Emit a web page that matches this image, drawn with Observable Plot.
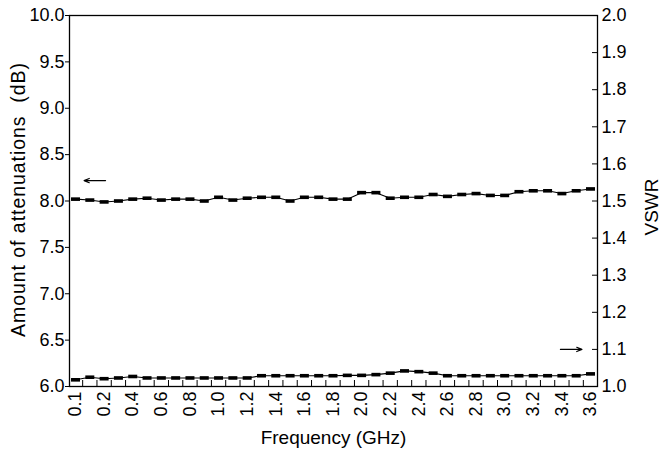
<!DOCTYPE html>
<html>
<head>
<meta charset="utf-8">
<script src="https://cdn.jsdelivr.net/npm/d3@7"></script>
<script src="https://cdn.jsdelivr.net/npm/@observablehq/plot@0.6"></script>
<style>
  html, body { margin: 0; padding: 0; background: #fff; }
  #chart svg { display: block; }
</style>
</head>
<body>
<div id="chart"></div>
<script>
// Measurement positions along the frequency axis (GHz positions, 0.1 GHz apart)
const freqPos = [0.0, 0.1, 0.2, 0.3, 0.4, 0.5, 0.6, 0.7, 0.8, 0.9, 1.0, 1.1, 1.2,
  1.3, 1.4, 1.5, 1.6, 1.7, 1.8, 1.9, 2.0, 2.1, 2.2, 2.3, 2.4, 2.5, 2.6, 2.7,
  2.8, 2.9, 3.0, 3.1, 3.2, 3.3, 3.4, 3.5, 3.6];

// Amount of attenuation (dB), left axis
const attenuationDb = [8.02, 8.01, 7.99, 8.00, 8.02, 8.03, 8.01, 8.02, 8.02, 8.00,
  8.04, 8.01, 8.03, 8.04, 8.04, 8.00, 8.04, 8.04, 8.02, 8.02, 8.09, 8.09, 8.03,
  8.04, 8.04, 8.07, 8.05, 8.07, 8.08, 8.06, 8.06, 8.10, 8.11, 8.11, 8.08, 8.11, 8.13];

// VSWR, right axis
const vswr = [1.018, 1.025, 1.021, 1.023, 1.027, 1.023, 1.023, 1.023, 1.023, 1.023,
  1.023, 1.023, 1.023, 1.029, 1.029, 1.029, 1.029, 1.029, 1.029, 1.030, 1.030,
  1.032, 1.036, 1.042, 1.040, 1.036, 1.029, 1.029, 1.029, 1.029, 1.029, 1.029,
  1.029, 1.029, 1.029, 1.029, 1.034];

// Axis ticks and labels
const dbTicks = [6.0, 6.5, 7.0, 7.5, 8.0, 8.5, 9.0, 9.5, 10.0];
const vswrTicks = [1.0, 1.1, 1.2, 1.3, 1.4, 1.5, 1.6, 1.7, 1.8, 1.9, 2.0];
const freqTickAt = [0.0, 0.2, 0.4, 0.6, 0.8, 1.0, 1.2, 1.4, 1.6, 1.8, 2.0, 2.2,
  2.4, 2.6, 2.8, 3.0, 3.2, 3.4, 3.6];
const freqTickLabels = ["0.1", "0.2", "0.4", "0.6", "0.8", "1.0", "1.2", "1.4",
  "1.6", "1.8", "2.0", "2.2", "2.4", "2.6", "2.8", "3.0", "3.2", "3.4", "3.6"];
const freqMinorTicks = [0.05, 0.15, 0.25, 0.35, 0.45, 0.55, 0.65, 0.75, 0.85,
  0.95, 1.05, 1.15, 1.25, 1.35, 1.45, 1.55, 1.65, 1.75, 1.85, 1.95, 2.05, 2.15,
  2.25, 2.35, 2.45, 2.55, 2.65, 2.75, 2.85, 2.95, 3.05, 3.15, 3.25, 3.35, 3.45, 3.55];

// Arrows pointing each curve to its axis (levels in dB; the second is VSWR 1.1)
const arrowFrom = [0.21, 3.39];
const arrowTo = [0.06, 3.54];
const arrowLevelDb = [8.22, 6.40];

// VSWR is drawn on the dB scale: 1.0 -> 6 dB, 2.0 -> 10 dB
const toDb = v => 6 + (v - 1) * 4;
const fromDb = d => (d - 6) / 4 + 1;

const idx = d3.range(freqPos.length);
const attenRows = idx.map(i => ({f: freqPos[i], y: attenuationDb[i]}));
const vswrRows = idx.map(i => ({f: freqPos[i], y: toDb(vswr[i])}));
const arrowRows = arrowFrom.map((x, i) => ({x1: x, x2: arrowTo[i], y: arrowLevelDb[i]}));

// Short bar-shaped point marker
const dash = {
  draw(ctx) {
    const w = 9, h = 3.6;
    ctx.moveTo(-w / 2, -h / 2);
    ctx.lineTo(w / 2, -h / 2);
    ctx.lineTo(w / 2, h / 2);
    ctx.lineTo(-w / 2, h / 2);
    ctx.closePath();
  }
};

const font = "'Liberation Sans', Arial, Helvetica, sans-serif";
const leftTitle = "Amount of attenuations  (dB)";

const chart = Plot.plot({
  width: 661,
  height: 458,
  marginLeft: 69,
  marginRight: 64,
  marginTop: 15,
  marginBottom: 72,
  style: {fontFamily: font, fontSize: "18px", color: "#000", background: "#fff"},
  x: {domain: [-0.042, 3.649]},
  y: {domain: [6, 10]},
  marks: [
    Plot.frame({stroke: "#000", strokeWidth: 1.3}),
    // left axis: outward ticks
    Plot.axisY(dbTicks, {anchor: "left", tickSize: 4, tickPadding: 1,
      tickFormat: d => d.toFixed(1), fontSize: 18, label: null}),
    // right axis: inward ticks, labels outside
    Plot.axisY(vswrTicks.map(toDb), {anchor: "right", tickSize: -6, text: null, label: null}),
    Plot.axisY(vswrTicks.map(toDb), {anchor: "right", tickSize: 0, tickPadding: 4,
      tickFormat: d => fromDb(d).toFixed(1), fontSize: 18, label: null}),
    // bottom axis: inward minor ticks, rotated labels
    Plot.axisX(freqMinorTicks, {anchor: "bottom", tickSize: -6, text: null, label: null}),
    Plot.axisX(freqTickAt, {anchor: "bottom", tickSize: 0, tickPadding: 5, tickRotate: -90,
      tickFormat: d => freqTickLabels[freqTickAt.indexOf(d)], fontSize: 18, label: null}),
    // curves
    Plot.line(attenRows, {x: "f", y: "y", stroke: "#000", strokeWidth: 1.1}),
    Plot.dot(attenRows, {x: "f", y: "y", symbol: dash, r: 4, fill: "#000", stroke: null}),
    Plot.line(vswrRows, {x: "f", y: "y", stroke: "#000", strokeWidth: 1.1}),
    Plot.dot(vswrRows, {x: "f", y: "y", symbol: dash, r: 4, fill: "#000", stroke: null}),
    // arrows
    Plot.arrow(arrowRows, {x1: "x1", x2: "x2", y1: "y", y2: "y", stroke: "#000",
      strokeWidth: 1.2, headLength: 7, headAngle: 45}),
    // axis titles
    Plot.text(["Frequency (GHz)"], {frameAnchor: "bottom", dy: 57, fontSize: 19,
      textAnchor: "middle", fill: "#000"}),
    Plot.text([leftTitle], {frameAnchor: "left", dx: -51, dy: -1, rotate: -90,
      textAnchor: "middle", fontSize: 19.5, fill: "#000"}),
    Plot.text(["VSWR"], {frameAnchor: "right", dx: 54, dy: 6, rotate: -90,
      textAnchor: "middle", fontSize: 19, fill: "#000"})
  ]
});

// stretch the left title to its full run along the axis
d3.select(chart).selectAll("text")
  .filter(function() { return this.textContent === leftTitle; })
  .attr("textLength", 274)
  .attr("lengthAdjust", "spacing");

document.getElementById("chart").appendChild(chart);
</script>
</body>
</html>
